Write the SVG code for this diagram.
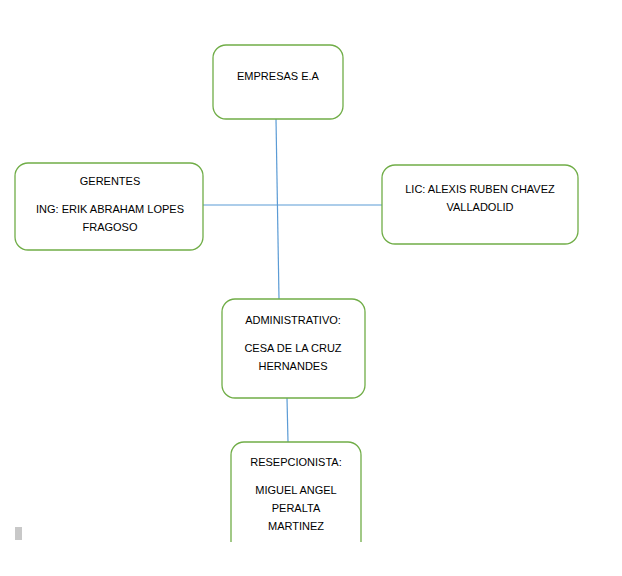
<svg xmlns="http://www.w3.org/2000/svg" width="622" height="576" viewBox="0 0 622 576">
<style>
.box{fill:#fff;stroke:#70AD47;stroke-width:1.3}
.t{font-family:"Liberation Sans",Arial,sans-serif;font-size:11px;fill:#000;text-anchor:middle}
.c{stroke:#5B9BD5;stroke-width:1.2;fill:none}
</style>
<defs><clipPath id="clip"><rect x="0" y="0" width="622" height="542"/></clipPath></defs>
<rect width="622" height="576" fill="#fff"/>
<g id="connectors">
<line class="c" x1="276" y1="119" x2="279" y2="299"/>
<line class="c" x1="203" y1="205" x2="382" y2="205"/>
<line class="c" x1="287" y1="398" x2="288" y2="442"/>
</g>
<g id="empresas">
<rect class="box" x="213" y="45" width="130" height="74" rx="13"/>
<text class="t" x="278" y="80">EMPRESAS E.A</text>
</g>
<g id="gerentes">
<rect class="box" x="15" y="163" width="188" height="87" rx="13"/>
<text class="t" x="110" y="185">GERENTES</text>
<text class="t" x="110" y="213">ING: ERIK ABRAHAM LOPES</text>
<text class="t" x="110" y="231">FRAGOSO</text>
</g>
<g id="lic">
<rect class="box" x="382" y="165" width="196" height="79" rx="13"/>
<text class="t" x="480" y="193">LIC: ALEXIS RUBEN CHAVEZ</text>
<text class="t" x="480" y="211">VALLADOLID</text>
</g>
<g id="administrativo">
<rect class="box" x="222" y="299" width="143" height="99" rx="13"/>
<text class="t" x="293" y="324">ADMINISTRATIVO:</text>
<text class="t" x="293" y="352">CESA DE LA CRUZ</text>
<text class="t" x="293" y="370">HERNANDES</text>
</g>
<g id="resepcionista">
<rect class="box" x="231" y="442" width="130" height="130" rx="13" clip-path="url(#clip)"/>
<text class="t" x="296" y="466">RESEPCIONISTA:</text>
<text class="t" x="296" y="494">MIGUEL ANGEL</text>
<text class="t" x="296" y="512">PERALTA</text>
<text class="t" x="296" y="530">MARTINEZ</text>
</g>
<rect x="15" y="527" width="7" height="13" fill="#c8c8c8"/>
</svg>
